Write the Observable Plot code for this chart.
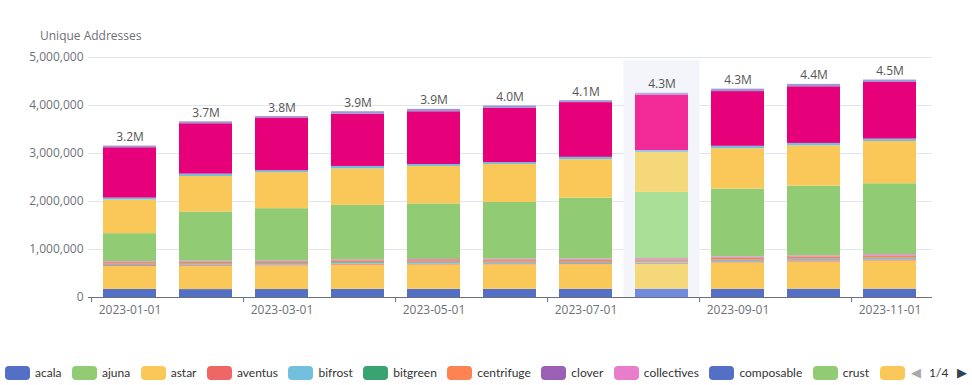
<!DOCTYPE html>
<html>
<head>
<meta charset="utf-8">
<script src="https://cdn.jsdelivr.net/npm/d3@7"></script>
<script src="https://cdn.jsdelivr.net/npm/@observablehq/plot@0.6"></script>
<style>
  body { margin: 0; background: #fff; font-family: "Open Sans", sans-serif; }
  #wrap { position: relative; width: 972px; height: 385px; overflow: hidden; }
  #title { position: absolute; left: 40px; top: 27px; font-size: 12px; color: #6e7079; }
  #chart { position: absolute; left: 0; top: 0; }
  #legend { position: absolute; left: 5px; top: 365px; width: 900px; height: 16px; overflow: hidden; white-space: nowrap; font-family: Lato, sans-serif; font-size: 12px; color: #333; }
  .item { display: inline-flex; align-items: center; margin-right: 10.5px; }
  .sw { display: inline-block; width: 25px; height: 14px; border-radius: 4px; margin-right: 5px; }
  #pager { position: absolute; left: 910px; top: 364px; width: 62px; height: 18px; font-family: Lato, sans-serif; font-size: 12px; color: #333; }
  #pager span { position: absolute; top: 0; }
</style>
</head>
<body>
<div id="wrap">
  <div id="chart"></div>
  <div id="title">Unique Addresses</div>
  <div id="legend"></div>
  <div id="pager"><span style="left:1px;color:#aaa;font-size:13px">&#9664;</span><span style="left:19px;top:1px">1/4</span><span style="left:47px;color:#2f4554;font-size:13px">&#9654;</span></div>
</div>
<script>
const months = ["2023-01-01","2023-02-01","2023-03-01","2023-04-01","2023-05-01","2023-06-01","2023-07-01","2023-08-01","2023-09-01","2023-10-01","2023-11-01"];
const labeledMonths = ["2023-01-01","2023-03-01","2023-05-01","2023-07-01","2023-09-01","2023-11-01"];
const hoverMonth = "2023-08-01";

// series values (addresses), stacked bottom to top
const acala       = [168000,165000,166000,170000,170000,171000,172000,172000,173000,174000,175000];
const astar       = [482000,488000,492000,505000,508000,510000,512000,520000,548000,566000,586000];
const aventus     = [17000,18000,18000,19000,19000,20000,20000,21000,21000,22000,22000];
const bifrost     = [20000,21000,22000,22000,23000,23000,24000,24000,25000,25000,26000];
const bitgreen    = [10000,11000,11000,12000,12000,12000,13000,13000,13000,14000,14000];
const centrifuge  = [28000,29000,30000,31000,31000,32000,32000,33000,34000,35000,36000];
const clover      = [8000,8000,8000,8000,8000,8000,8000,8000,8000,8000,8000];
const collectives = [15000,16000,17000,18000,19000,20000,21000,22000,23000,24000,25000];
const moonbeam    = [582000,1024000,1086000,1135000,1160000,1184000,1268000,1377000,1415000,1452000,1478000];
const nodle       = [700000,740000,750000,760000,780000,790000,800000,830000,840000,840000,880000];
const parallel    = [40000,50000,40000,50000,40000,40000,50000,40000,50000,50000,50000];
const polkadot    = [1050000,1050000,1100000,1090000,1100000,1130000,1140000,1160000,1140000,1180000,1180000];
const zeitgeist   = [35000,40000,30000,50000,50000,50000,40000,35000,50000,50000,50000];

const stackSeries = {acala, astar, aventus, bifrost, bitgreen, centrifuge, clover, collectives, moonbeam, nodle, parallel, polkadot, zeitgeist};
const seriesOrder = Object.keys(stackSeries);

// legend page 1 of 4 (the 12th entry is cut at the pager, only its swatch shows)
const legendNames = ["acala","ajuna","astar","aventus","bifrost","bitgreen","centrifuge","clover","collectives","composable","crust"];
const legendSwatchCount = 12;

const palette = ["#5470c6","#91cc75","#fac858","#ee6666","#73c0de","#3ba272","#fc8452","#9a60b4","#ea7ccc"];
const colorOf = {
  acala:"#5470c6", astar:"#fac858", aventus:"#ee6666", bifrost:"#73c0de", bitgreen:"#3ba272",
  centrifuge:"#fc8452", clover:"#9a60b4", collectives:"#ea7ccc", moonbeam:"#91cc75", nodle:"#fac858",
  parallel:"#73c0de", polkadot:"#e6007a", zeitgeist:"#9a9ad8"
};
const hiColorOf = {
  acala:"#6f8bdf", astar:"#f5d87a", aventus:"#f08585", bifrost:"#92d0e8", bitgreen:"#5cb88a",
  centrifuge:"#fd9c70", clover:"#ae7cc4", collectives:"#ef98d8", moonbeam:"#aadf98", nodle:"#f5d87a",
  parallel:"#92d0e8", polkadot:"#f22a98", zeitgeist:"#b0b0e4"
};

const rows = [];
for (const s of seriesOrder) {
  stackSeries[s].forEach((v, i) => rows.push({month: months[i], series: s, value: v}));
}
const totals = months.map((m, i) => ({month: m, total: d3.sum(seriesOrder, s => stackSeries[s][i])}));

const plot = Plot.plot({
  width: 972,
  height: 330,
  marginTop: 57,
  marginBottom: 33,
  marginLeft: 88,
  marginRight: 40,
  style: {fontFamily: "'Open Sans', sans-serif", fontSize: "12px", color: "#6e7079", background: "transparent"},
  x: {domain: months, paddingInner: 0.3, paddingOuter: 0.15, label: null},
  y: {domain: [0, 5000000], label: null},
  marks: [
    Plot.gridY([1000000,2000000,3000000,4000000,5000000], {stroke: "#e0e6f1", strokeOpacity: 1}),
    Plot.cell([hoverMonth], {x: d => d, fill: "#f3f5fb", insetLeft: -11.5, insetRight: -11.5, insetTop: 3}),
    Plot.barY(rows, {
      x: "month", y: "value", z: "series", order: seriesOrder,
      fill: d => d.month === hoverMonth ? hiColorOf[d.series] : colorOf[d.series]
    }),
    Plot.ruleY([0], {stroke: "#6e7079"}),
    Plot.axisY([0,1000000,2000000,3000000,4000000,5000000], {tickSize: 0, tickPadding: 5, tickFormat: d3.format(","), label: null, fill: "#6e7079"}),
    Plot.axisX(labeledMonths, {tickSize: 0, tickPadding: 8, label: null, fill: "#6e7079"}),
    Plot.axisX(labeledMonths, {tickSize: 5, text: null, dx: -38.4, stroke: "#6e7079", label: null}),
    Plot.text(totals, {x: "month", y: "total", text: d => (d.total / 1e6).toFixed(1) + "M", lineAnchor: "bottom", dy: -5, fill: "#555", fontSize: 12})
  ]
});
document.getElementById("chart").append(plot);

const leg = document.getElementById("legend");
for (let i = 0; i < legendSwatchCount; i++) {
  const it = document.createElement("span");
  it.className = "item";
  const sw = document.createElement("span");
  sw.className = "sw";
  sw.style.background = palette[i % palette.length];
  it.append(sw);
  if (i < legendNames.length) it.append(document.createTextNode(legendNames[i]));
  leg.append(it);
}
</script>
</body>
</html>
